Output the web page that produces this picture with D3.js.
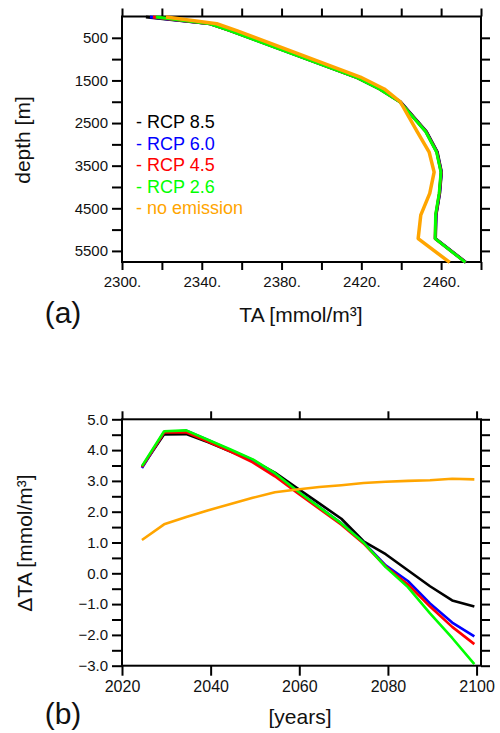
<!DOCTYPE html>
<html>
<head>
<meta charset="utf-8">
<script src="https://cdn.jsdelivr.net/npm/d3@7"></script>
<style>
  body { margin: 0; background: #fff; }
  svg { display: block; font-family: "Liberation Sans", Arial, Helvetica, sans-serif; }
</style>
</head>
<body>
<svg id="chart" width="500" height="733"></svg>
<script>
// scenario names and colours
const scenarios = ["RCP 8.5", "RCP 6.0", "RCP 4.5", "RCP 2.6", "no emission"];
const colors = ["#000000", "#0000ff", "#ff0000", "#00ff00", "#ffa500"];

// panel (a): TA profile against depth
const depthLevels = [10, 170, 330, 1420, 1700, 2000, 2700, 3180, 3650, 4150, 4660, 5210, 5770];
const taRcp85 = [2312, 2344.4, 2354.4, 2417.4, 2429.4, 2439.6, 2452.6, 2458.1, 2460.2, 2459.3, 2457.5, 2457.2, 2472.5];
const taRcp60 = [2314, 2344.2, 2354.2, 2417.2, 2429.2, 2439.4, 2452.4, 2457.9, 2460.1, 2459.2, 2457.4, 2457.1, 2472.4];
const taRcp45 = [2315.5, 2344.1, 2354.1, 2417.1, 2429.1, 2439.3, 2452.3, 2457.8, 2460, 2459.1, 2457.3, 2457, 2472.3];
const taRcp26 = [2317, 2344, 2354, 2417, 2429, 2439.2, 2452.2, 2457.7, 2459.9, 2459, 2457.2, 2457, 2472.2];
const taNoEmission = [2322, 2347.5, 2357.5, 2419.5, 2431.5, 2439.5, 2448, 2454, 2456.5, 2454.3, 2449.8, 2448.5, 2464.3];

// panel (b): delta TA time series
const years = [2024.5, 2029.5, 2034.5, 2039.5, 2044.5, 2049.5, 2054.5, 2059.5,
               2064.5, 2069.5, 2074.5, 2079.5, 2084.5, 2089.5, 2094.5, 2099.5];
const dRcp85 = [3.45, 4.51, 4.52, 4.25, 3.95, 3.66, 3.27, 2.77, 2.27, 1.77, 1.04, 0.62, 0.10, -0.42, -0.88, -1.08];
const dRcp60 = [3.42, 4.58, 4.63, 4.32, 4.00, 3.68, 3.22, 2.68, 2.15, 1.62, 1.00, 0.26, -0.25, -0.98, -1.60, -2.05];
const dRcp45 = [3.45, 4.57, 4.58, 4.27, 3.95, 3.60, 3.15, 2.62, 2.10, 1.58, 0.97, 0.22, -0.36, -1.08, -1.74, -2.30];
const dRcp26 = [3.48, 4.61, 4.64, 4.33, 4.02, 3.70, 3.25, 2.68, 2.15, 1.62, 1.00, 0.20, -0.45, -1.30, -2.10, -2.95];
const dNoEmission = [1.08, 1.59, 1.83, 2.05, 2.25, 2.45, 2.63, 2.72, 2.80, 2.86, 2.93, 2.97, 3.00, 3.02, 3.07, 3.05];

const svg = d3.select("#chart");

function drawFrame(g, x, y) {
    g.append("rect")
        .attr("x", x.range()[0]).attr("y", d3.min(y.range()))
        .attr("width", x.range()[1] - x.range()[0])
        .attr("height", Math.abs(y.range()[1] - y.range()[0]))
        .attr("fill", "none").attr("stroke", "#000").attr("stroke-width", 2);
}

function styleAxis(sel) {
    sel.select(".domain").remove();
    sel.selectAll(".tick line").attr("stroke", "#000").attr("stroke-width", 2);
    sel.selectAll(".tick text").attr("fill", "#111").style("font-size", "15px");
}

// ---------- panel (a) ----------
const xa = d3.scaleLinear().domain([2300, 2480]).range([122, 481]);
const ya = d3.scaleLinear().domain([0, 5760]).range([16.5, 262]);
const ga = svg.append("g");

const taTicks = d3.range(2300, 2481, 20);
const depthTicks = d3.range(500, 5501, 500);

ga.append("g").attr("transform", "translate(0,262)")
    .call(d3.axisBottom(xa).tickValues(taTicks).tickSize(8).tickPadding(6)
        .tickFormat(d => (d - 2300) % 40 === 0 && d < 2480 ? d + "." : ""))
    .call(styleAxis);
ga.append("g").attr("transform", "translate(0,16.5)")
    .call(d3.axisTop(xa).tickValues(taTicks).tickSize(8).tickFormat(""))
    .call(styleAxis);
ga.append("g").attr("transform", "translate(122,0)")
    .call(d3.axisLeft(ya).tickValues(depthTicks).tickSize(10).tickPadding(4)
        .tickFormat(d => d % 1000 === 500 ? d : ""))
    .call(styleAxis);
ga.append("g").attr("transform", "translate(481,0)")
    .call(d3.axisRight(ya).tickValues(depthTicks).tickSize(9).tickFormat(""))
    .call(styleAxis);
drawFrame(ga, xa, ya);

const profiles = [taRcp85, taRcp60, taRcp45, taRcp26, taNoEmission];
const profileLine = d3.line().x(d => xa(d[0])).y(d => ya(d[1]));
profiles.forEach((p, i) => {
    ga.append("path")
        .datum(p.map((v, j) => [v, depthLevels[j]]))
        .attr("d", profileLine)
        .attr("fill", "none")
        .attr("stroke", colors[i])
        .attr("stroke-width", i === 4 ? 3.5 : 3)
        .attr("stroke-linejoin", "round");
});

// legend
ga.selectAll("text.legend")
    .data(scenarios)
    .enter().append("text")
    .attr("class", "legend")
    .attr("x", 136)
    .attr("y", (d, i) => 128 + i * 21.5)
    .attr("fill", (d, i) => colors[i])
    .style("font-size", "18px")
    .text(d => "- " + d);

ga.append("text")
    .attr("transform", "translate(30,140) rotate(-90)")
    .attr("text-anchor", "middle")
    .style("font-size", "21px").attr("fill", "#111")
    .text("depth [m]");
ga.append("text")
    .attr("x", 301).attr("y", 322)
    .attr("text-anchor", "middle")
    .style("font-size", "21px").attr("fill", "#111")
    .text("TA [mmol/m³]");
ga.append("text")
    .attr("x", 63).attr("y", 323)
    .attr("text-anchor", "middle")
    .style("font-size", "30px").attr("fill", "#111")
    .text("(a)");

// ---------- panel (b) ----------
const xb = d3.scaleLinear().domain([2020, 2101]).range([122, 481]);
const yb = d3.scaleLinear().domain([-3, 5]).range([665.7, 419.3]);
const gb = svg.append("g");

const yearTicks = [2020, 2040, 2060, 2080, 2100];
const dTicks = d3.range(-3, 5.01, 0.5);

gb.append("g").attr("transform", "translate(0,665.7)")
    .call(d3.axisBottom(xb).tickValues(yearTicks).tickSize(10).tickPadding(5).tickFormat(d3.format("d")))
    .call(styleAxis);
gb.selectAll(".tick text").style("font-size", "16px");
gb.append("g").attr("transform", "translate(0,419.3)")
    .call(d3.axisTop(xb).tickValues(yearTicks).tickSize(8).tickFormat(""))
    .call(styleAxis);
gb.append("g").attr("transform", "translate(122,0)")
    .call(d3.axisLeft(yb).tickValues(dTicks).tickSize(10).tickPadding(4)
        .tickFormat(d => Math.abs(d % 1) < 1e-9 ? d3.format(".1f")(d) : ""))
    .call(styleAxis);
gb.append("g").attr("transform", "translate(481,0)")
    .call(d3.axisRight(yb).tickValues(dTicks).tickSize(9).tickFormat(""))
    .call(styleAxis);
drawFrame(gb, xb, yb);

const series = [dRcp85, dRcp60, dRcp45, dRcp26, dNoEmission];
const seriesLine = d3.line().x(d => xb(d[0])).y(d => yb(d[1]));
series.forEach((s, i) => {
    gb.append("path")
        .datum(s.map((v, j) => [years[j], v]))
        .attr("d", seriesLine)
        .attr("fill", "none")
        .attr("stroke", colors[i])
        .attr("stroke-width", 2.6)
        .attr("stroke-linejoin", "round");
});

gb.append("text")
    .attr("transform", "translate(32,543) rotate(-90)")
    .attr("text-anchor", "middle")
    .style("font-size", "21px").attr("fill", "#111")
    .text("ΔTA [mmol/m³]");
gb.append("text")
    .attr("x", 300).attr("y", 724)
    .attr("text-anchor", "middle")
    .style("font-size", "21px").attr("fill", "#111")
    .text("[years]");
gb.append("text")
    .attr("x", 63).attr("y", 724)
    .attr("text-anchor", "middle")
    .style("font-size", "30px").attr("fill", "#111")
    .text("(b)");
</script>
</body>
</html>
